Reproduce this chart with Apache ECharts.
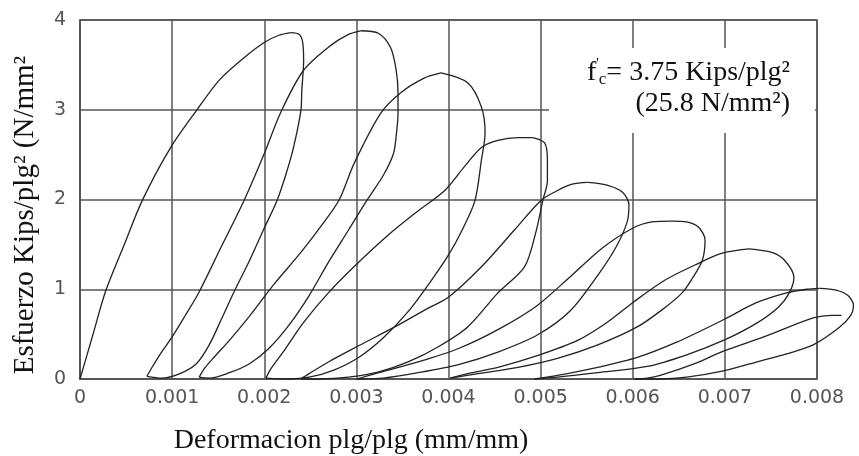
<!DOCTYPE html>
<html>
<head>
<meta charset="utf-8">
<script src="https://cdn.jsdelivr.net/npm/echarts@6/dist/echarts.min.js"></script>
<style>
  html, body { margin: 0; padding: 0; background: #fff; }
  #chart { width: 859px; height: 456px; }
</style>
</head>
<body>
<div id="chart"></div>
<script>
// Strain values are in units of 1e-3 (label 0.001 = 1), stress in Kips/plg².
var xTicks = [0, 1, 2, 3, 4, 5, 6, 7, 8];
var yTicks = [0, 1, 2, 3, 4];
// the last loop runs past the 0.008 border of the grid
var xDrawMax = 8.5;

var envelope = [[0,0],[0.14,0.49],[0.28,0.98],[0.48,1.49],[0.68,1.99],[0.99,2.58],[1.27,2.99],[1.52,3.33],[1.79,3.58],[2.01,3.75],[2.17,3.83],[2.30,3.86]];

var unload1 = [[2.30,3.86],[2.39,3.84],[2.43,3.75],[2.44,3.55],[2.42,3.21],[2.41,2.99],[2.33,2.58],[2.25,2.29],[2.15,1.99],[2.01,1.68],[1.85,1.32],[1.68,0.97],[1.54,0.66],[1.41,0.38],[1.27,0.17],[1.09,0.06],[0.89,0.01],[0.73,0.03]];
var reload1 = [[0.73,0.03],[0.78,0.12],[0.89,0.30],[1.00,0.46],[1.15,0.71],[1.30,0.97],[1.54,1.47],[1.79,1.99],[2.01,2.51],[2.19,2.97],[2.44,3.44],[2.74,3.72],[2.93,3.84],[3.06,3.88]];
var unload2 = [[3.06,3.88],[3.26,3.85],[3.39,3.69],[3.45,3.44],[3.47,3.19],[3.47,2.96],[3.45,2.71],[3.42,2.51],[3.31,2.27],[3.13,1.99],[2.93,1.66],[2.71,1.30],[2.50,0.93],[2.28,0.60],[2.06,0.34],[1.85,0.17],[1.63,0.07],[1.41,0.01],[1.30,0.02]];
var reload2 = [[1.30,0.02],[1.36,0.12],[1.46,0.24],[1.63,0.43],[1.85,0.70],[2.12,1.06],[2.41,1.41],[2.65,1.73],[2.83,2.00],[2.99,2.40],[3.28,2.96],[3.50,3.19],[3.75,3.35],[3.94,3.41]];
var unload3 = [[3.94,3.41],[4.23,3.30],[4.38,3.03],[4.42,2.74],[4.38,2.44],[4.31,1.99],[4.18,1.68],[4.02,1.38],[3.80,1.05],[3.58,0.75],[3.31,0.46],[3.04,0.24],[2.77,0.10],[2.50,0.02],[2.28,0.00],[2.03,0.01]];
var reload3 = [[2.03,0.01],[2.08,0.11],[2.23,0.32],[2.44,0.63],[2.71,0.96],[3.04,1.30],[3.37,1.61],[3.66,1.85],[3.98,2.10],[4.19,2.36],[4.38,2.58],[4.56,2.66],[4.78,2.69],[4.94,2.69]];
var unload4 = [[4.94,2.69],[5.07,2.63],[5.10,2.44],[5.10,2.21],[5.05,1.99],[4.97,1.62],[4.85,1.25],[4.56,0.96],[4.23,0.58],[3.91,0.36],[3.58,0.19],[3.26,0.08],[2.93,0.02],[2.61,0.00],[2.41,0.00]];
var reload4 = [[2.41,0.00],[2.50,0.06],[2.71,0.19],[3.04,0.37],[3.47,0.60],[3.80,0.79],[4.02,0.91],[4.38,1.25],[4.74,1.66],[5.03,1.99],[5.21,2.10],[5.37,2.17],[5.54,2.19]];
var unload5 = [[5.54,2.19],[5.75,2.16],[5.92,2.08],[5.99,1.94],[5.97,1.75],[5.86,1.49],[5.68,1.20],[5.35,0.76],[4.99,0.49],[4.56,0.30],[4.13,0.16],[3.69,0.07],[3.31,0.01],[3.02,0.00]];
var reload5 = [[3.02,0.00],[3.26,0.07],[3.69,0.19],[4.13,0.34],[4.56,0.55],[4.99,0.82],[5.37,1.16],[5.70,1.46],[6.03,1.68],[6.24,1.75],[6.46,1.76]];
var unload6 = [[6.46,1.76],[6.62,1.75],[6.75,1.69],[6.82,1.55],[6.79,1.32],[6.68,1.12],[6.57,0.96],[6.35,0.77],[6.08,0.58],[5.65,0.38],[5.21,0.23],[4.78,0.13],[4.34,0.06],[4.04,0.01]];
var reload6 = [[4.04,0.01],[4.23,0.06],[4.56,0.13],[4.99,0.26],[5.43,0.43],[5.75,0.63],[6.03,0.85],[6.38,1.10],[6.71,1.27],[7.00,1.40],[7.30,1.45]];
var unload7 = [[7.30,1.45],[7.55,1.41],[7.69,1.32],[7.79,1.13],[7.74,0.96],[7.62,0.80],[7.38,0.62],[7.02,0.43],[6.62,0.27],[6.19,0.14],[5.65,0.07],[5.21,0.02],[4.96,0.00]];
var reload7 = [[4.96,0.00],[5.21,0.04],[5.65,0.13],[6.08,0.24],[6.51,0.41],[7.02,0.66],[7.38,0.85],[7.71,0.96],[7.93,1.00],[8.07,1.01]];
var unload8 = [[8.07,1.01],[8.25,0.99],[8.38,0.93],[8.44,0.82],[8.41,0.71],[8.28,0.57],[8.00,0.38],[7.71,0.28],[7.42,0.20],[7.02,0.09],[6.62,0.02],[6.33,0.00],[6.05,0.00]];
var reload8 = [[6.05,0.00],[6.19,0.01],[6.33,0.04],[6.73,0.18],[7.02,0.31],[7.49,0.48],[8.00,0.68],[8.20,0.71],[8.31,0.71]];

var curves = [envelope, unload1, reload1, unload2, reload2, unload3, reload3, unload4, reload4,
              unload5, reload5, unload6, reload6, unload7, reload7, unload8, reload8];

var serif = '"Liberation Serif", "DejaVu Serif", serif';
var tickFont = '"DejaVu Sans", sans-serif';
var gridColor = '#555';

var plotLeft = 80, plotTop = 20, plotWidth = 737, plotHeight = 359;

var chart = echarts.init(document.getElementById('chart'), null, { renderer: 'canvas' });

chart.setOption({
    animation: false,
    backgroundColor: '#fff',
    grid: [
        // visible frame, 0 .. 0.008
        { left: plotLeft, top: plotTop, width: plotWidth, height: plotHeight,
          show: true, borderColor: gridColor, borderWidth: 1.5 },
        // same scale, wider, for the curves
        { left: plotLeft, top: plotTop, width: plotWidth * xDrawMax / xTicks[xTicks.length - 1], height: plotHeight,
          show: false }
    ],
    xAxis: [{
        gridIndex: 0, type: 'value', min: xTicks[0], max: xTicks[xTicks.length - 1], interval: 1,
        axisLine: { show: true, lineStyle: { color: gridColor, width: 1.5 } },
        axisTick: { show: false },
        splitLine: { show: true, lineStyle: { color: gridColor, width: 1.5 } },
        axisLabel: {
            color: '#555', fontSize: 19, fontFamily: tickFont, margin: 10,
            formatter: function(v) { return v === 0 ? '0' : (v / 1000).toFixed(3); }
        }
    }, {
        gridIndex: 1, type: 'value', min: xTicks[0], max: xDrawMax, show: false
    }],
    yAxis: [{
        gridIndex: 0, type: 'value', min: yTicks[0], max: yTicks[yTicks.length - 1], interval: 1,
        axisLine: { show: true, lineStyle: { color: gridColor, width: 1.5 } },
        axisTick: { show: false },
        splitLine: { show: true, lineStyle: { color: gridColor, width: 1.5 } },
        axisLabel: { color: '#555', fontSize: 19, fontFamily: tickFont, margin: 14 }
    }, {
        gridIndex: 1, type: 'value', min: yTicks[0], max: yTicks[yTicks.length - 1], show: false
    }],
    graphic: [
        // blank area behind the annotation, the scan has no grid there
        { type: 'rect', z: 1, shape: { x: 549, y: 48, width: 266, height: 85 }, style: { fill: '#fff' } },
        {
            type: 'text', z: 3, x: 790, y: 88,
            style: {
                text: "{n|f}{p|'}{c|c}{n|= 3.75 Kips/plg²}\n{n|(25.8 N/mm²)}",
                align: 'right', verticalAlign: 'middle',
                rich: {
                    n: { fontFamily: serif, fontSize: 28, lineHeight: 31, fill: '#111' },
                    p: { fontFamily: serif, fontSize: 14, lineHeight: 31, verticalAlign: 'top', fill: '#111' },
                    c: { fontFamily: serif, fontSize: 17, lineHeight: 22, verticalAlign: 'bottom', fill: '#111' }
                }
            }
        },
        {
            type: 'text', z: 3, x: 351, y: 441,
            style: { text: 'Deformacion plg/plg (mm/mm)', font: '28px ' + serif, fill: '#111', align: 'center', verticalAlign: 'middle' }
        },
        {
            type: 'text', z: 3, x: 25, y: 215, rotation: Math.PI / 2,
            style: { text: 'Esfuerzo Kips/plg² (N/mm²', font: '29px ' + serif, fill: '#111', align: 'center', verticalAlign: 'middle' }
        }
    ],
    series: curves.map(function(c) {
        return {
            type: 'line', xAxisIndex: 1, yAxisIndex: 1, data: c, smooth: 0.3,
            symbol: 'none', clip: false, z: 2,
            lineStyle: { color: '#222', width: 1.3 }
        };
    })
});
</script>
</body>
</html>
